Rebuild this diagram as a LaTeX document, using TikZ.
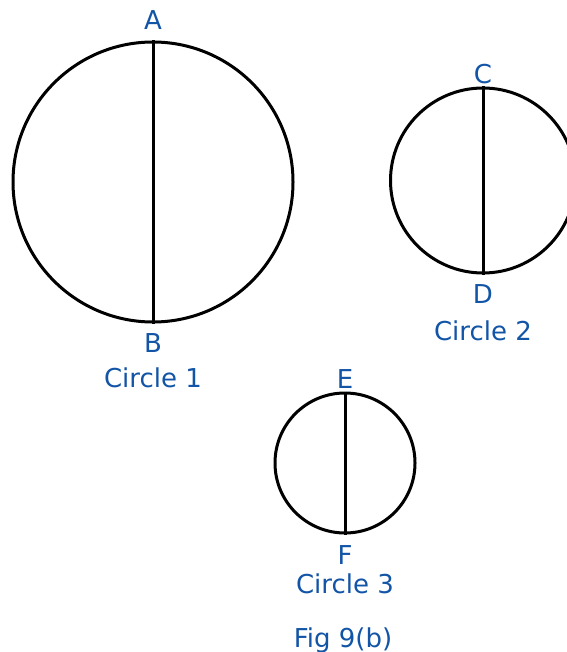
\documentclass[tikz,border=0pt]{standalone}
\usepackage{fontspec}
\setmainfont{DejaVu Sans}
\definecolor{FigBlue}{RGB}{18, 84, 166}
\usetikzlibrary{positioning}

\begin{document}
\begin{tikzpicture}[x=1pt, y=-1pt,
  ring/.style={circle, draw, line width=3pt, inner sep=0pt},
  lbl/.style={text=FigBlue, inner sep=0pt, font=\fontsize{26}{30}\selectfont}]
\useasboundingbox (0,0) rectangle (566,652);
% the three circles
\node[ring, minimum size=280pt] (c1) at (153,182) {};
\node[ring, minimum size=185pt] (c2) at (483,180.5) {};
\node[ring, minimum size=140pt] (c3) at (345,463) {};
% diameters
\foreach \c in {c1, c2, c3} {
  \draw[line width=3pt] (\c.north) -- (\c.south);
}
% end points and names
\node[lbl, above=11pt of c1.north] (A) {A};
\node[lbl, below=10pt of c1.south] (B) {B};
\node[lbl, below=15pt of B] (n1) {Circle 1};
\node[lbl, above=2pt of c2.north] (C) {C};
\node[lbl, below=10pt of c2.south] (D) {D};
\node[lbl, below=17pt of D] (n2) {Circle 2};
\node[lbl, above=3pt of c3.north] (E) {E};
\node[lbl, below=11pt of c3.south] (F) {F};
\node[lbl, below=9pt of F] (n3) {Circle 3};
\node[lbl, anchor=base] (fig) at (343,647) {Fig 9(b)};
\end{tikzpicture}
\end{document}
